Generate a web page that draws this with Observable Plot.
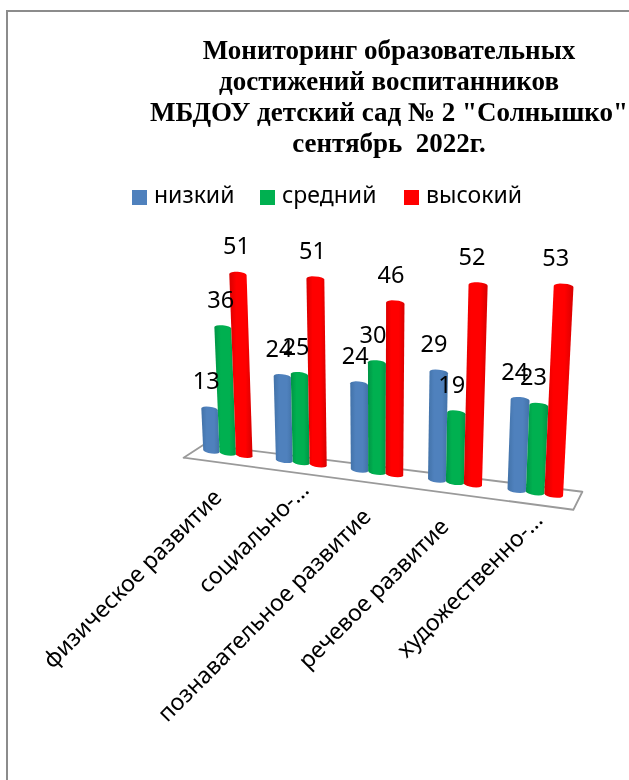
<!DOCTYPE html>
<html lang="ru">
<head>
<meta charset="utf-8">
<script src="https://cdn.jsdelivr.net/npm/d3@7"></script>
<script src="https://cdn.jsdelivr.net/npm/@observablehq/plot@0.6"></script>
<style>
  html, body { margin: 0; padding: 0; background: #fff; }
  #page { position: relative; width: 629px; height: 780px; overflow: hidden; filter: blur(0.4px); }
  #frame { position: absolute; left: 6px; top: 10px; right: -5px; bottom: -5px; border-left: 2px solid #8c8c8c; border-top: 2px solid #8c8c8c; }
  #head { position: relative; height: 215px; }
  #title { position: absolute; left: 150px; width: 478px; top: 35px; text-align: center; white-space: pre;
    font: bold 27px/31px "Liberation Serif", serif; color: #000; }
  #legend { position: absolute; top: 0; left: 0; font: 23px/1 "Noto Sans", sans-serif; color: #000; }
  #legend i { position: absolute; top: 190px; width: 15px; height: 15px; }
  #legend span { position: absolute; top: 183px; white-space: nowrap; }
  #plot { position: relative; }
  #plot svg { display: block; }
</style>
</head>
<body>
<div id="page">
  <div id="frame"></div>
  <div id="head">
    <div id="title"></div>
    <div id="legend"></div>
  </div>
  <div id="plot"></div>
</div>
<script>
const titleLines = ["Мониторинг образовательных", "достижений воспитанников", "МБДОУ детский сад № 2 \"Солнышко\"", "сентябрь  2022г."];
const categories = ["физическое развитие", "социально-...", "познавательное развитие", "речевое развитие", "художественно-..."];
const seriesNames = ["низкий", "средний", "высокий"];
const low = [13, 24, 24, 29, 24];
const mid = [36, 25, 30, 19, 23];
const high = [51, 51, 46, 52, 53];
const seriesValues = [low, mid, high];
const seriesColors = ["#4f81bd", "#00b050", "#ff0000"];
const seriesEdges = ["#4272a8", "#009445", "#d80000"];

document.getElementById("title").textContent = titleLines.join("\n");
const legend = document.getElementById("legend");
[[132, 154], [260, 282], [404, 426]].forEach(([sx, tx], i) => {
  const sw = document.createElement("i");
  sw.style.left = sx + "px"; sw.style.background = seriesColors[i];
  const t = document.createElement("span");
  t.style.left = tx + "px"; t.textContent = seriesNames[i];
  legend.append(sw, t);
});

// The chart plane: u counts bar slots along the floor, v is the value.
const groupStep = 4.4;
const halfBar = 0.5;
const capLift = 0.7;
const along = (u) => u * (1 + 0.0036 * u);
const stretch = (u) => 1 + 0.0062 * u;
const place = (u, v, depth = 0) => {
  const X = along(u);
  const f = stretch(u);
  const t = (u + 1.1) / 22;
  const dx = (10 + (4.5 - 10) * t) / 16.3;
  const dy = (6.5 + (9 - 6.5) * t) / 3.6;
  return {
    x: X + 0.000958 * (X - 10.06) * f * v - depth * dx,
    y: -0.584 * X + f * v - depth * dy
  };
};

const outlines = seriesNames.map(() => []);
const tops = [];
const baseLabels = [];
categories.forEach((c, g) => {
  seriesValues.forEach((vals, s) => {
    const u = g * groupStep + s;
    const v = vals[g];
    const id = g + "-" + s;
    const steps = 8;
    for (let k = 0; k <= steps; k++) {
      const th = Math.PI * (1 - k / steps);
      const p = place(u + halfBar * Math.cos(th), capLift - capLift * Math.sin(th));
      outlines[s].push({ id, ...p });
    }
    for (let k = 0; k <= steps; k++) {
      const th = Math.PI * (k / steps);
      const p = place(u + halfBar * Math.cos(th), v - capLift + capLift * Math.sin(th));
      outlines[s].push({ id, ...p });
    }
    tops.push({ x: place(u, v * 0.6).x, y: place(u, v).y, label: String(v) });
  });
  baseLabels.push({ ...place(g * groupStep + 1, 0), label: c, trimmed: c.endsWith("...") });
});

const floorEnds = [-1.1, 20.9];
const floor = [
  place(floorEnds[0], 0, 1), place(floorEnds[1], 0, 1),
  place(floorEnds[1], 0, -1), place(floorEnds[0], 0, -1), place(floorEnds[0], 0, 1)
];

const gradients = () => {
  const svgNS = "http://www.w3.org/2000/svg";
  const defs = document.createElementNS(svgNS, "defs");
  seriesColors.forEach((col, i) => {
    const g = document.createElementNS(svgNS, "linearGradient");
    g.setAttribute("id", "cyl" + i);
    [[0, seriesEdges[i]], [0.3, col], [0.7, col], [1, seriesEdges[i]]].forEach(([o, c]) => {
      const st = document.createElementNS(svgNS, "stop");
      st.setAttribute("offset", o); st.setAttribute("stop-color", c);
      g.append(st);
    });
    defs.append(g);
  });
  return defs;
};

const labelFont = '"Noto Sans", sans-serif';
const chart = Plot.plot({
  width: 629, height: 565,
  margin: 0,
  x: { domain: [-12.94, 25.64], range: [0, 629], axis: null },
  y: { domain: [-90.83, 66.11], range: [565, 0], axis: null },
  style: { background: "transparent", overflow: "visible" },
  marks: [
    gradients,
    Plot.line(floor, { x: "x", y: "y", stroke: "#9a9a9a", strokeWidth: 1.8, curve: "linear" }),
    ...outlines.map((pts, i) => Plot.line(pts, {
      x: "x", y: "y", z: "id", fill: `url(#cyl${i})`, stroke: "none", curve: "linear"
    })),
    Plot.text(tops, { x: "x", y: "y", text: "label", dx: -4, dy: -25, fontSize: 23.5, fontFamily: labelFont, fill: "#000" }),
    Plot.text(baseLabels.filter(d => !d.trimmed), { x: "x", y: "y", text: "label", textAnchor: "end", rotate: -45, dx: -10, dy: 38, fontSize: 23, fontFamily: labelFont, fill: "#000" }),
    Plot.text(baseLabels.filter(d => d.trimmed), { x: "x", y: "y", text: "label", textAnchor: "end", rotate: -45, dx: 4, dy: 21, fontSize: 23, fontFamily: labelFont, fill: "#000" })
  ]
});
document.getElementById("plot").append(chart);
</script>
</body>
</html>
